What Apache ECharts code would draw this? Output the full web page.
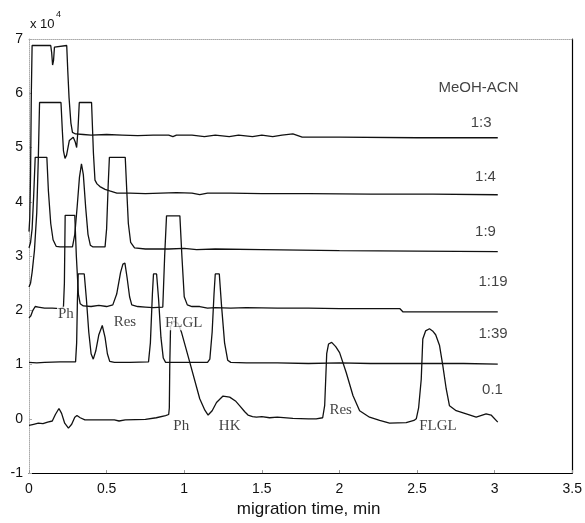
<!DOCTYPE html>
<html><head><meta charset="utf-8">
<script src="https://cdn.jsdelivr.net/npm/echarts@6/dist/echarts.min.js"></script>
<style>html,body{margin:0;padding:0;background:#fff}#c{width:585px;height:523px}</style>
</head><body><div id="c"></div>
<script>
// ---- tick labels ----
const xTickLabels = ['0', '0.5', '1', '1.5', '2', '2.5', '3', '3.5'];
const yTickLabels = ['-1', '0', '1', '2', '3', '4', '5', '6', '7'];

// ---- traces: [migration time (min), signal (x 10^4)] ----
const trace_1_3 = [
  [0, 3.45], [0.005, 3.7], [0.01, 4.5], [0.015, 6.0], [0.02, 6.88], [0.14, 6.88], [0.146, 6.75],
  [0.152, 6.52], [0.158, 6.6], [0.164, 6.85], [0.168, 6.88], [0.243, 6.88], [0.25, 6.4],
  [0.258, 5.92], [0.27, 5.45], [0.28, 5.28], [0.3, 5.25], [0.35, 5.24], [0.4, 5.23], [0.5, 5.24],
  [0.6, 5.23], [0.7, 5.22], [0.8, 5.23], [0.9, 5.23], [0.927, 5.2], [0.95, 5.23], [1.05, 5.23],
  [1.13, 5.2], [1.2, 5.23], [1.29, 5.2], [1.35, 5.23], [1.44, 5.2], [1.5, 5.23], [1.57, 5.2],
  [1.63, 5.23], [1.7, 5.25], [1.76, 5.19], [2.0, 5.19], [2.5, 5.18], [3.02, 5.18]
];
const trace_1_4 = [
  [0, 2.43], [0.01, 2.5], [0.02, 2.7], [0.035, 3.1], [0.05, 3.8], [0.06, 4.8], [0.068, 5.83],
  [0.206, 5.83], [0.215, 5.3], [0.222, 4.94], [0.232, 4.8], [0.242, 4.86], [0.26, 5.13],
  [0.285, 5.19], [0.298, 5.1], [0.307, 5.0], [0.315, 5.3], [0.324, 5.83], [0.403, 5.83],
  [0.415, 4.9], [0.425, 4.4], [0.438, 4.33], [0.457, 4.28], [0.49, 4.23], [0.52, 4.2],
  [0.566, 4.16], [0.65, 4.16], [0.75, 4.15], [0.85, 4.16], [0.95, 4.17], [1.05, 4.16],
  [1.1, 4.13], [1.15, 4.16], [1.3, 4.16], [1.5, 4.15], [1.8, 4.15], [2.2, 4.14], [2.6, 4.14],
  [3.02, 4.13]
];
const trace_1_9 = [
  [0, 3.15], [0.01, 3.25], [0.02, 3.5], [0.03, 4.1], [0.04, 4.82], [0.115, 4.82], [0.125, 4.2],
  [0.14, 3.6], [0.155, 3.3], [0.175, 3.18], [0.2, 3.17], [0.28, 3.17], [0.295, 3.4], [0.31, 3.9],
  [0.325, 4.45], [0.338, 4.7], [0.35, 4.5], [0.365, 3.9], [0.38, 3.4], [0.395, 3.2], [0.41, 3.17],
  [0.49, 3.17], [0.5, 3.5], [0.51, 4.3], [0.518, 4.82], [0.62, 4.82], [0.63, 4.2], [0.64, 3.6],
  [0.655, 3.25], [0.68, 3.15], [0.75, 3.13], [0.9, 3.13], [1.0, 3.14], [1.08, 3.12], [1.2, 3.13],
  [1.5, 3.12], [2.0, 3.1], [2.5, 3.09], [3.02, 3.08]
];
const trace_1_19 = [
  [0, 1.86], [0.012, 1.9], [0.025, 2.0], [0.04, 2.07], [0.06, 2.06], [0.1, 2.04], [0.15, 2.04],
  [0.2, 2.03], [0.222, 2.06], [0.228, 2.5], [0.233, 3.75], [0.295, 3.75], [0.305, 3.0],
  [0.318, 2.3], [0.33, 2.12], [0.35, 2.08], [0.4, 2.07], [0.45, 2.09], [0.5, 2.07], [0.54, 2.1],
  [0.565, 2.3], [0.59, 2.7], [0.605, 2.85], [0.618, 2.87], [0.632, 2.6], [0.648, 2.25],
  [0.662, 2.1], [0.7, 2.07], [0.75, 2.06], [0.8, 2.05], [0.862, 2.06], [0.874, 3.0],
  [0.886, 3.74], [0.972, 3.74], [0.985, 3.0], [1.0, 2.25], [1.02, 2.1], [1.05, 2.07],
  [1.1, 2.07], [1.15, 2.04], [1.2, 2.05], [1.3, 2.04], [1.4, 2.05], [1.6, 2.04], [1.8, 2.04],
  [2.0, 2.03], [2.2, 2.03], [2.39, 2.03], [2.41, 1.97], [3.02, 1.97]
];
const trace_1_39 = [
  [0, 1.04], [0.05, 1.03], [0.1, 1.04], [0.2, 1.05], [0.3, 1.05], [0.307, 1.4], [0.312, 2.2],
  [0.317, 2.67], [0.356, 2.67], [0.37, 2.2], [0.385, 1.6], [0.4, 1.2], [0.414, 1.1], [0.43, 1.25],
  [0.45, 1.55], [0.472, 1.72], [0.49, 1.5], [0.505, 1.2], [0.52, 1.06], [0.55, 1.04], [0.65, 1.04],
  [0.77, 1.05], [0.782, 1.4], [0.795, 2.3], [0.802, 2.67], [0.822, 2.67], [0.835, 2.2],
  [0.85, 1.5], [0.865, 1.12], [0.88, 1.04], [1.0, 1.04], [1.15, 1.04], [1.165, 1.1], [1.18, 1.6],
  [1.192, 2.3], [1.2, 2.67], [1.226, 2.67], [1.24, 2.1], [1.26, 1.4], [1.28, 1.08], [1.3, 1.04],
  [1.4, 1.03], [1.6, 1.03], [1.8, 1.02], [2.0, 1.03], [2.2, 1.02], [2.5, 1.02], [2.8, 1.02],
  [3.02, 1.01]
];
const trace_0_1 = [
  [0, -0.12], [0.03, -0.1], [0.06, -0.08], [0.09, -0.09], [0.12, -0.06], [0.15, -0.04],
  [0.17, 0.08], [0.193, 0.19], [0.21, 0.1], [0.23, -0.08], [0.254, -0.17], [0.275, -0.1],
  [0.295, 0.03], [0.309, 0.06], [0.33, 0.02], [0.36, -0.02], [0.45, -0.02], [0.55, -0.02],
  [0.58, -0.04], [0.62, -0.02], [0.75, -0.01], [0.82, 0.02], [0.88, 0.06], [0.9, 0.08],
  [0.904, 0.2], [0.907, 1.0], [0.912, 1.7], [0.93, 1.8], [0.96, 1.76], [0.983, 1.59],
  [1.036, 1.04], [1.1, 0.37], [1.133, 0.16], [1.154, 0.07], [1.18, 0.15], [1.208, 0.3],
  [1.25, 0.42], [1.293, 0.4], [1.33, 0.33], [1.358, 0.24], [1.39, 0.13], [1.411, 0.07],
  [1.44, 0.04], [1.465, 0.03], [1.5, 0.04], [1.55, 0.02], [1.6, 0.03], [1.7, 0.01], [1.8, 0.0],
  [1.85, 0.0], [1.892, 0.02], [1.905, 0.25], [1.918, 1.2], [1.93, 1.38], [1.95, 1.41],
  [1.976, 1.33], [2.001, 1.22], [2.044, 0.85], [2.087, 0.43], [2.13, 0.15], [2.194, 0.03],
  [2.259, -0.03], [2.323, -0.08], [2.43, -0.07], [2.48, -0.03], [2.495, 0.0], [2.51, 0.2],
  [2.527, 0.73], [2.537, 1.47], [2.555, 1.62], [2.58, 1.66], [2.6, 1.62], [2.62, 1.55],
  [2.645, 1.35], [2.666, 0.98], [2.688, 0.55], [2.709, 0.24], [2.752, 0.15], [2.817, 0.09],
  [2.881, 0.03], [2.945, 0.09], [2.977, 0.07], [3.02, -0.06]
];
const traceNames = ['1:3', '1:4', '1:9', '1:19', '1:39', '0.1'];
const traces = [trace_1_3, trace_1_4, trace_1_9, trace_1_19, trace_1_39, trace_0_1];

// ---- annotation anchors (data coordinates) ----
const ratioLabels = [
  ['MeOH-ACN', 2.896, 6.10], ['1:3', 2.913, 5.45], ['1:4', 2.941, 4.46], ['1:9', 2.941, 3.45],
  ['1:19', 2.99, 2.52], ['1:39', 2.99, 1.57], ['0.1', 2.986, 0.53]
];
const peakLabels = [
  ['Ph', 0.238, 1.93], ['Res', 0.618, 1.79], ['FLGL', 0.997, 1.77],
  ['Ph', 0.981, -0.14], ['HK', 1.293, -0.14], ['Res', 2.008, 0.165], ['FLGL', 2.635, -0.14]
];

const chart = echarts.init(document.getElementById('c'), null, {renderer: 'canvas'});
const sans = 'Liberation Sans, Arial, sans-serif';
const serif = 'Liberation Serif, Times New Roman, serif';

const series = traces.map((d, i) => ({
  name: traceNames[i], type: 'line', data: d, showSymbol: false, symbol: 'none',
  lineStyle: {color: '#111', width: 1.3}, z: 2, silent: true, animation: false
}));
series.push({
  type: 'scatter', symbolSize: 0, z: 10, silent: true, animation: false,
  data: ratioLabels.map(r => ({value: [r[1], r[2]], name: r[0]})),
  label: {show: true, position: 'inside', formatter: p => p.name, color: '#111',
    fontFamily: sans, fontSize: 15}
});
series.push({
  type: 'scatter', symbolSize: 0, z: 10, silent: true, animation: false,
  data: peakLabels.map(r => ({value: [r[1], r[2]], name: r[0]})),
  label: {show: true, position: 'inside', formatter: p => p.name, color: '#111',
    fontFamily: serif, fontSize: 15, backgroundColor: '#fff', padding: [0, 1]}
});

chart.setOption({
  animation: false,
  backgroundColor: '#fff',
  grid: {left: 29, right: 12, top: 39, bottom: 47},
  xAxis: [{
    type: 'value', min: 0, max: 3.5, interval: 0.5, position: 'bottom',
    axisLine: {show: true, onZero: false, lineStyle: {color: '#000', width: 1.2}},
    axisTick: {show: true, inside: true, length: 3, lineStyle: {color: '#999'}},
    splitLine: {show: false},
    axisLabel: {color: '#111', fontFamily: sans, fontSize: 14, margin: 9,
      formatter: (v) => xTickLabels[Math.round(v / 0.5)]},
    name: 'migration time, min', nameLocation: 'middle', nameGap: 27,
    nameTextStyle: {color: '#111', fontFamily: sans, fontSize: 17, padding: [0, 0, 0, 16]}
  }, {
    type: 'value', min: 0, max: 3.5, position: 'top',
    axisLine: {show: true, onZero: false, lineStyle: {color: '#aaa', type: 'dotted', width: 1}},
    axisTick: {show: false}, axisLabel: {show: false}, splitLine: {show: false}
  }],
  yAxis: [{
    type: 'value', min: -1, max: 7, interval: 1, position: 'left',
    axisLine: {show: true, onZero: false, lineStyle: {color: '#aaa', type: 'dotted', width: 1}},
    axisTick: {show: true, inside: true, length: 3, lineStyle: {color: '#aaa'}},
    splitLine: {show: false},
    axisLabel: {color: '#111', fontFamily: sans, fontSize: 14, margin: 6,
      formatter: (v) => yTickLabels[Math.round(v + 1)]}
  }, {
    type: 'value', min: -1, max: 7, interval: 1, position: 'right',
    axisLine: {show: true, onZero: false, lineStyle: {color: '#000', width: 1.2}},
    axisTick: {show: false}, axisLabel: {show: false}, splitLine: {show: false}
  }],
  graphic: [
    {type: 'text', left: 30, top: 18, style: {text: 'x 10', fill: '#111', font: '13px ' + sans}},
    {type: 'text', left: 56, top: 10, style: {text: '4', fill: '#111', font: '9px ' + sans}}
  ],
  series: series
});
</script>
</body></html>
